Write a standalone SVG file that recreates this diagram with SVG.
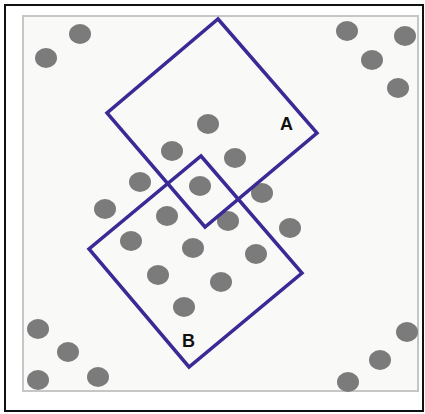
<svg xmlns="http://www.w3.org/2000/svg" width="425" height="414" viewBox="0 0 425 414">
<style>
.dot{fill:#7b7b7b}
.sq{fill:none;stroke:#3a2a96;stroke-width:3.5;stroke-linejoin:miter}
.lbl{font-family:"Liberation Sans",Arial,sans-serif;font-weight:bold;font-size:18px;fill:#111;text-anchor:middle}
</style>
<rect x="0" y="0" width="425" height="414" fill="#ffffff"/>
<rect x="5" y="5" width="418" height="406" fill="#ffffff" stroke="#111" stroke-width="2"/>
<rect x="23" y="16" width="395" height="375" fill="#f9f9f7" stroke="#c6c6c6" stroke-width="2"/>
<g id="dots">
<ellipse class="dot" cx="80" cy="34" rx="11" ry="10"/>
<ellipse class="dot" cx="46" cy="58" rx="11" ry="10"/>
<ellipse class="dot" cx="347" cy="31" rx="11" ry="10"/>
<ellipse class="dot" cx="405" cy="36" rx="11" ry="10"/>
<ellipse class="dot" cx="372" cy="60" rx="11" ry="10"/>
<ellipse class="dot" cx="398" cy="88" rx="11" ry="10"/>
<ellipse class="dot" cx="208" cy="124" rx="11" ry="10"/>
<ellipse class="dot" cx="172" cy="151" rx="11" ry="10"/>
<ellipse class="dot" cx="235" cy="158" rx="11" ry="10"/>
<ellipse class="dot" cx="140" cy="182" rx="11" ry="10"/>
<ellipse class="dot" cx="200" cy="186" rx="11" ry="10"/>
<ellipse class="dot" cx="262" cy="193" rx="11" ry="10"/>
<ellipse class="dot" cx="105" cy="209" rx="11" ry="10"/>
<ellipse class="dot" cx="167" cy="216" rx="11" ry="10"/>
<ellipse class="dot" cx="228" cy="221" rx="11" ry="10"/>
<ellipse class="dot" cx="290" cy="228" rx="11" ry="10"/>
<ellipse class="dot" cx="131" cy="241" rx="11" ry="10"/>
<ellipse class="dot" cx="193" cy="248" rx="11" ry="10"/>
<ellipse class="dot" cx="256" cy="254" rx="11" ry="10"/>
<ellipse class="dot" cx="158" cy="275" rx="11" ry="10"/>
<ellipse class="dot" cx="221" cy="282" rx="11" ry="10"/>
<ellipse class="dot" cx="184" cy="307" rx="11" ry="10"/>
<ellipse class="dot" cx="38" cy="329" rx="11" ry="10"/>
<ellipse class="dot" cx="68" cy="352" rx="11" ry="10"/>
<ellipse class="dot" cx="38" cy="380" rx="11" ry="10"/>
<ellipse class="dot" cx="98" cy="377" rx="11" ry="10"/>
<ellipse class="dot" cx="407" cy="332" rx="11" ry="10"/>
<ellipse class="dot" cx="380" cy="360" rx="11" ry="10"/>
<ellipse class="dot" cx="348" cy="382" rx="11" ry="10"/>
</g>
<g id="squareA">
<polygon class="sq" points="218,19 317,133 205,227 107,113"/>
<text class="lbl" x="286.5" y="130">A</text>
</g>
<g id="squareB">
<polygon class="sq" points="201,156 302,273 189,367 89,249"/>
<text class="lbl" x="188.5" y="347">B</text>
</g>
</svg>
